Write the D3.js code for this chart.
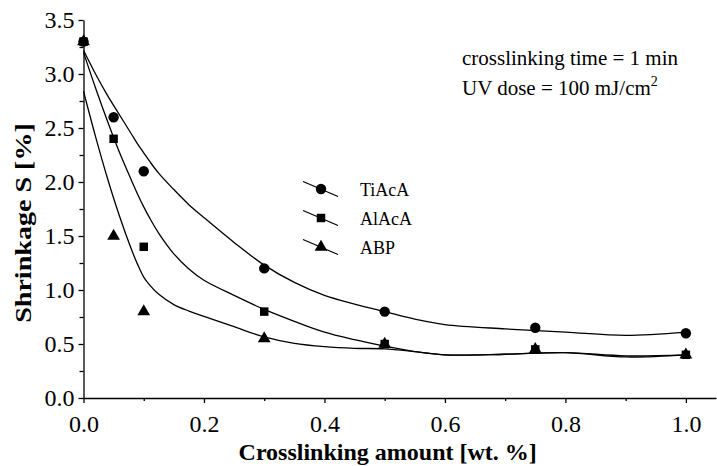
<!DOCTYPE html>
<html lang="en">
<head>
<meta charset="UTF-8">
<title>Shrinkage vs crosslinking amount</title>
<script src="https://d3js.org/d3.v7.min.js"></script>
<style>
  body { margin: 0; background: #fff; }
  svg text { font-family: "Liberation Serif", "Times New Roman", serif; fill: #000; }
  .axis path, .axis line { stroke: #000; stroke-width: 1.3px; }
  .axis text { font-size: 24px; }
</style>
</head>
<body>
<script>
// measured points
var amount = [0, 0.05, 0.1, 0.3, 0.5, 0.75, 1.0];
var tiaca = [3.3, 2.6, 2.1, 1.2, 0.8, 0.65, 0.6];
var alaca = [3.3, 2.4, 1.4, 0.8, 0.5, 0.45, 0.4];
var abp   = [3.3, 1.5, 0.8, 0.55, 0.5, 0.45, 0.4];

// fitted curves
var fitX     = [0, 0.02, 0.04, 0.06, 0.08, 0.09, 0.1, 0.11, 0.125, 0.15, 0.175, 0.2, 0.25, 0.3, 0.35, 0.4, 0.45, 0.5, 0.55, 0.6, 0.7, 0.8, 0.9, 1.0];
var fitTiaca = [3.22, 3.0, 2.8, 2.62, 2.44, 2.35, 2.27, 2.19, 2.08, 1.93, 1.79, 1.67, 1.44, 1.23, 1.07, 0.95, 0.87, 0.8, 0.73, 0.68, 0.64, 0.61, 0.58, 0.61];
var fitAlaca = [3.2, 2.87, 2.56, 2.27, 2.01, 1.885, 1.77, 1.665, 1.525, 1.335, 1.195, 1.09, 0.95, 0.82, 0.71, 0.61, 0.54, 0.48, 0.43, 0.4, 0.405, 0.42, 0.38, 0.4];
var fitAbp   = [2.84, 2.42, 2.03, 1.68, 1.37, 1.235, 1.12, 1.045, 0.96, 0.865, 0.805, 0.755, 0.66, 0.565, 0.505, 0.475, 0.46, 0.455, 0.43, 0.4, 0.405, 0.42, 0.39, 0.4];

var xTicks = [0, 0.2, 0.4, 0.6, 0.8, 1.0];
var yTicks = [0, 0.5, 1.0, 1.5, 2.0, 2.5, 3.0, 3.5];

var W = 717, H = 466;
var padL = 83.5, padT = 20, axisY = 398, padR = 716;

var x = d3.scaleLinear().domain([0, 1.05]).range([padL, padR]);
var y = d3.scaleLinear().domain([0, 3.5]).range([axisY, padT]);

var svg = d3.select("body").append("svg")
    .attr("width", W)
    .attr("height", H);

// minor ticks
svg.append("g").attr("class", "axis")
    .attr("transform", "translate(0," + axisY + ")")
    .call(d3.axisBottom(x).tickValues(d3.range(0.1, 1.01, 0.2)).tickSize(3).tickFormat(""))
    .select(".domain").remove();
svg.append("g").attr("class", "axis")
    .attr("transform", "translate(" + padL + ",0)")
    .call(d3.axisLeft(y).tickValues(d3.range(0.25, 3.5, 0.5)).tickSize(4).tickFormat(""))
    .select(".domain").remove();

// major ticks
svg.append("g").attr("class", "axis")
    .attr("transform", "translate(0," + axisY + ")")
    .call(d3.axisBottom(x).tickValues(xTicks).tickSize(5).tickSizeOuter(0).tickPadding(12).tickFormat(d3.format(".1f")));
svg.append("g").attr("class", "axis")
    .attr("transform", "translate(" + padL + ",0)")
    .call(d3.axisLeft(y).tickValues(yTicks).tickSize(5).tickSizeOuter(0).tickPadding(4).tickFormat(d3.format(".1f")));

// axis titles
svg.append("text")
    .attr("x", (x(0) + x(1.0)) / 2 + 3)
    .attr("y", 460)
    .attr("text-anchor", "middle")
    .style("font-size", "24px")
    .style("font-weight", "bold")
    .text("Crosslinking amount [wt. %]");

svg.append("text")
    .attr("transform", "translate(31,223) rotate(-90) scale(1.17,1)")
    .attr("text-anchor", "middle")
    .style("font-size", "24px")
    .style("font-weight", "bold")
    .text("Shrinkage S [%]");

// curves
var line = d3.line()
    .x(function(d) { return x(d[0]); })
    .y(function(d) { return y(d[1]); })
    .curve(d3.curveCatmullRom.alpha(0.5));

[fitAbp, fitAlaca, fitTiaca].forEach(function(vals) {
  svg.append("path")
      .datum(fitX.map(function(v, i) { return [v, vals[i]]; }))
      .attr("fill", "none")
      .attr("stroke", "#000")
      .attr("stroke-width", 1.3)
      .attr("d", line);
});

// markers
var sym = {
  circle: d3.symbol().type(d3.symbolCircle).size(85),
  square: d3.symbol().type(d3.symbolSquare).size(72),
  triangle: d3.symbol().type(d3.symbolTriangle).size(70)
};

var series = [
  {name: "ABP", vals: abp, shape: "triangle"},
  {name: "AlAcA", vals: alaca, shape: "square"},
  {name: "TiAcA", vals: tiaca, shape: "circle"}
];

series.forEach(function(s) {
  svg.append("g").selectAll("path")
      .data(amount)
      .enter()
      .append("path")
      .attr("transform", function(d, i) {
        return "translate(" + x(d) + "," + y(s.vals[i]) + ")";
      })
      .attr("d", sym[s.shape])
      .attr("fill", "#000");
});

// legend
var legend = [
  {name: "TiAcA", shape: "circle"},
  {name: "AlAcA", shape: "square"},
  {name: "ABP", shape: "triangle"}
];
var lg = svg.append("g").selectAll("g")
    .data(legend)
    .enter()
    .append("g")
    .attr("transform", function(d, i) {
      return "translate(321," + (189 + i * 29) + ")";
    });
lg.append("line")
    .attr("x1", -18).attr("y1", -7.5)
    .attr("x2", 17).attr("y2", 7.5)
    .attr("stroke", "#000")
    .attr("stroke-width", 1.3);
lg.append("path")
    .attr("d", function(d) { return sym[d.shape](); })
    .attr("fill", "#000");
lg.append("text")
    .attr("x", 39)
    .attr("y", 7)
    .style("font-size", "18px")
    .text(function(d) { return d.name; });

// annotation
svg.append("text")
    .attr("x", 462)
    .attr("y", 65)
    .style("font-size", "21px")
    .text("crosslinking time = 1 min");
var uv = svg.append("text")
    .attr("x", 462)
    .attr("y", 95)
    .style("font-size", "21px");
uv.append("tspan").text("UV dose = 100 mJ/cm");
uv.append("tspan").attr("dy", -9).style("font-size", "14px").text("2");
</script>
</body>
</html>
